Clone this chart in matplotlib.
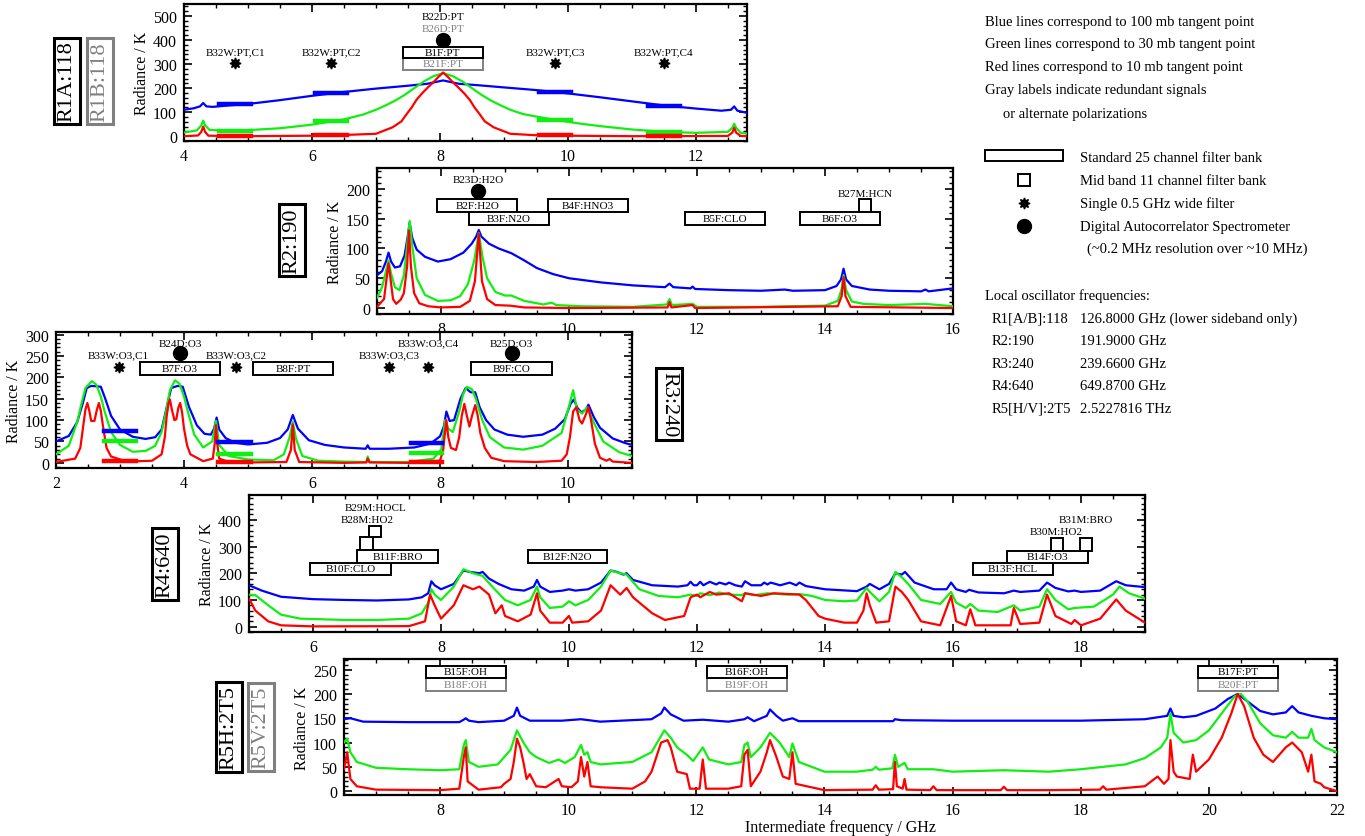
import matplotlib
matplotlib.use('Agg')
import matplotlib.pyplot as plt
from matplotlib.patches import Rectangle
from matplotlib.ticker import MultipleLocator

plt.rcParams['font.family'] = ['Liberation Serif', 'DejaVu Serif']

# ---------------- data (frequency GHz, radiance K) ----------------
r1_blue = [(4.0,110),(4.15,116),(4.25,124),(4.3,138),(4.35,124),(4.45,122),(4.7,128),(5.0,134),
           (5.5,150),(6.0,168),(6.5,184),(7.0,198),(7.5,210),(7.8,218),(8.05,232),(8.3,218),
           (8.6,212),(9.0,203),(9.5,192),(10.0,178),(10.5,162),(11.0,145),(11.5,128),(12.0,115),
           (12.4,106),(12.55,110),(12.6,124),(12.65,106),(12.8,97)]
r1_green = [(4.0,15),(4.2,24),(4.27,45),(4.3,65),(4.33,45),(4.4,26),(4.8,22),(5.5,33),(6.0,48),
            (6.5,70),(6.8,90),(7.0,110),(7.15,128),(7.3,148),(7.45,172),(7.6,200),(7.75,228),
            (7.9,250),(8.05,262),(8.2,250),(8.35,228),(8.5,200),(8.65,172),(8.8,148),
            (8.95,128),(9.1,110),(9.3,92),(9.5,82),(9.8,68),(10.2,52),(10.5,42),(11.0,28),
            (11.5,18),(12.0,14),(12.5,18),(12.57,35),(12.6,52),(12.63,35),(12.7,14),(12.8,11)]
r1_red = [(4.0,0),(4.22,3),(4.27,18),(4.3,40),(4.33,18),(4.38,2),(5.0,0),(6.0,2),(6.5,5),
          (7.0,10),(7.26,37),(7.4,62),(7.48,92),(7.56,120),(7.63,150),(7.72,178),(7.82,205),
          (7.9,225),(7.97,245),(8.05,265),(8.13,245),(8.2,225),(8.28,205),(8.38,178),
          (8.47,150),(8.54,120),(8.62,92),(8.7,62),(8.84,37),(9.1,10),(9.5,4),(10.0,2),
          (11.0,0),(12.5,1),(12.57,15),(12.6,35),(12.63,15),(12.7,1),(12.8,0)]
r1_wide_f = [4.8, 6.3, 9.8, 11.5]
r1_wide_blue = [132, 181, 182, 127]
r1_wide_green = [22, 64, 66, 16]
r1_wide_red = [1, 4, 5, 1]

r2_blue = [(7.0,55),(7.08,62),(7.14,78),(7.18,93),(7.22,78),(7.28,68),(7.36,70),(7.43,88),
           (7.48,120),(7.51,143),(7.55,118),(7.62,98),(7.75,86),(7.95,78),(8.15,82),(8.35,93),
           (8.48,108),(8.55,120),(8.59,131),(8.63,120),(8.75,108),(8.9,100),(9.1,92),(9.3,80),
           (9.5,67),(9.75,57),(10.0,50),(10.5,43),(11.0,38),(11.5,35),(11.57,41),(11.63,35),
           (11.9,33),(11.93,36),(11.97,32),(12.5,30),(13.0,29),(13.37,31),(13.5,29),(14.0,30),
           (14.18,37),(14.25,48),(14.29,66),(14.33,48),(14.42,37),(14.7,31),(15.0,29),(15.5,28),
           (15.57,31),(15.62,28),(16.0,33)]
r2_green = [(7.0,17),(7.08,35),(7.14,62),(7.18,80),(7.22,58),(7.28,35),(7.35,30),(7.42,55),
            (7.47,105),(7.51,146),(7.55,105),(7.62,50),(7.75,22),(7.95,12),(8.15,13),(8.3,20),
            (8.42,40),(8.52,80),(8.59,126),(8.65,85),(8.72,50),(8.85,27),(9.0,21),(9.1,21),
            (9.3,12),(9.6,6),(9.73,9),(9.8,5),(10.2,3),(11.0,2),(11.53,6),(11.57,15),(11.61,5),
            (11.93,7),(12.0,2),(13.0,2),(13.4,3),(14.0,4),(14.2,12),(14.26,32),(14.29,55),
            (14.33,30),(14.42,11),(14.6,7),(15.0,5),(15.57,7),(16.0,3)]
r2_red = [(7.0,2),(7.11,15),(7.15,50),(7.18,75),(7.21,50),(7.25,15),(7.3,7),(7.37,14),
          (7.42,25),(7.47,70),(7.5,130),(7.53,70),(7.58,25),(7.66,8),(7.8,3),(8.0,1),(8.3,2),
          (8.45,12),(8.53,45),(8.59,125),(8.64,45),(8.72,15),(8.85,5),(9.08,4),(9.3,1),
          (10.0,0),(11.54,1),(11.57,10),(11.6,1),(11.93,5),(11.97,0),(14.2,3),(14.26,20),
          (14.29,52),(14.32,20),(14.4,2),(16.0,0)]

r3_blue = [(2.0,50),(2.2,63),(2.33,95),(2.42,140),(2.48,175),(2.55,180),(2.63,179),(2.7,178),
           (2.77,150),(2.86,110),(3.0,78),(3.2,61),(3.4,56),(3.55,60),(3.65,78),(3.73,130),
           (3.8,175),(3.9,180),(3.98,178),(4.08,130),(4.2,88),(4.32,68),(4.42,66),(4.47,80),
           (4.51,106),(4.55,78),(4.65,58),(4.8,47),(5.0,43),(5.3,47),(5.5,58),(5.62,78),
           (5.7,112),(5.78,80),(5.95,53),(6.2,42),(6.5,36),(6.84,33),(6.87,41),(6.9,33),
           (7.2,33),(7.6,36),(7.85,45),(8.0,62),(8.06,85),(8.1,120),(8.15,98),(8.22,100),
           (8.32,150),(8.4,175),(8.48,165),(8.55,165),(8.62,130),(8.72,100),(8.85,78),(9.05,66),
           (9.3,61),(9.6,66),(9.8,80),(9.95,102),(10.04,138),(10.09,148),(10.15,128),(10.21,118),
           (10.28,125),(10.32,136),(10.4,108),(10.5,82),(10.7,57),(10.9,46),(11.0,42)]
r3_green = [(2.0,20),(2.2,40),(2.33,95),(2.4,140),(2.46,175),(2.56,191),(2.63,183),(2.7,155),
            (2.76,120),(2.86,72),(3.0,42),(3.2,26),(3.4,28),(3.55,40),(3.65,72),(3.72,120),
            (3.78,170),(3.86,193),(3.93,185),(4.0,155),(4.06,120),(4.16,66),(4.3,36),(4.44,50),
            (4.5,98),(4.55,42),(4.7,16),(5.0,8),(5.4,6),(5.56,20),(5.65,60),(5.7,96),(5.75,56),
            (5.85,16),(6.1,5),(6.5,3),(6.85,2),(6.87,15),(6.9,2),(7.5,2),(7.9,10),(8.02,32),
            (8.08,100),(8.13,80),(8.2,72),(8.3,120),(8.36,160),(8.42,178),(8.5,172),(8.56,150),
            (8.66,100),(8.78,60),(9.0,36),(9.3,31),(9.6,40),(9.9,70),(10.03,140),(10.08,170),
            (10.14,125),(10.22,115),(10.3,130),(10.4,95),(10.55,50),(10.8,25),(11.0,16)]
r3_red = [(2.0,2),(2.3,10),(2.38,35),(2.42,80),(2.46,125),(2.49,140),(2.52,122),(2.55,98),
          (2.6,98),(2.64,125),(2.67,140),(2.7,122),(2.74,80),(2.79,35),(2.86,15),(3.1,3),
          (3.5,5),(3.65,20),(3.7,60),(3.73,110),(3.76,140),(3.78,148),(3.81,125),(3.85,100),
          (3.88,102),(3.91,128),(3.94,140),(3.97,118),(4.0,80),(4.05,40),(4.1,20),(4.3,4),
          (4.45,10),(4.48,45),(4.5,88),(4.52,45),(4.55,10),(4.7,2),(5.0,1),(5.6,2),(5.67,30),
          (5.7,90),(5.73,30),(5.8,2),(6.5,0),(6.85,1),(6.87,10),(6.9,1),(7.5,0),(8.0,5),
          (8.05,30),(8.07,60),(8.1,100),(8.13,60),(8.17,35),(8.25,30),(8.3,60),(8.34,110),
          (8.38,138),(8.42,110),(8.46,85),(8.5,110),(8.55,135),(8.59,110),(8.63,70),(8.7,35),
          (8.8,12),(9.0,4),(9.5,2),(9.9,5),(9.98,20),(10.03,60),(10.08,120),(10.13,130),
          (10.18,100),(10.22,92),(10.27,110),(10.32,130),(10.36,100),(10.42,45),(10.5,12),
          (10.6,5),(10.65,9),(10.7,3),(11.0,0)]
r3_bar_lo = [2.75, 4.53, 7.55]
r3_bar_hi = [3.25, 5.05, 8.03]
r3_bar_blue = [75, 48, 47]
r3_bar_green = [50, 20, 22]
r3_bar_red = [4, 1, 2]

r4_blue = [(5.0,155),(5.2,135),(5.5,112),(6.0,103),(6.5,100),(7.0,98),(7.5,102),(7.7,110),
           (7.8,125),(7.85,170),(7.9,155),(8.0,140),(8.2,160),(8.35,210),(8.45,205),(8.6,200),
           (8.65,205),(8.75,180),(8.9,160),(9.1,140),(9.3,135),(9.45,150),(9.5,175),(9.55,150),
           (9.7,130),(9.9,135),(10.0,140),(10.1,135),(10.3,140),(10.5,165),(10.65,210),
           (10.75,205),(10.85,195),(10.9,200),(11.0,175),(11.3,155),(11.7,150),(11.85,155),
           (11.9,168),(11.95,155),(12.0,155),(12.05,168),(12.1,155),(12.2,168),(12.3,158),
           (12.35,165),(12.45,158),(12.5,165),(12.6,155),(12.7,150),(12.75,170),(12.85,155),
           (13.0,155),(13.05,165),(13.1,158),(13.15,165),(13.3,155),(13.45,165),(13.55,155),
           (13.6,165),(13.7,152),(14.0,140),(14.5,133),(14.65,150),(14.7,160),(14.85,140),
           (15.0,160),(15.1,200),(15.2,195),(15.25,205),(15.4,165),(15.7,140),(15.9,140),
           (15.97,165),(16.05,140),(16.2,130),(16.25,138),(16.4,128),(16.8,125),(16.95,135),
           (17.05,130),(17.35,135),(17.47,165),(17.6,145),(17.8,132),(17.9,135),(18.0,130),
           (18.3,135),(18.55,170),(18.7,155),(19.0,148)]
r4_green = [(5.0,120),(5.1,118),(5.3,80),(5.5,45),(5.8,30),(6.5,25),(7.0,25),(7.5,30),(7.7,50),
            (7.8,90),(7.85,140),(7.9,120),(8.0,100),(8.2,150),(8.35,215),(8.5,200),(8.65,190),
            (8.8,150),(9.0,100),(9.2,80),(9.4,100),(9.5,150),(9.55,110),(9.7,70),(9.9,75),
            (10.0,95),(10.1,80),(10.3,100),(10.5,150),(10.65,210),(10.8,200),(10.9,195),
            (11.1,140),(11.4,115),(11.7,110),(11.9,120),(12.0,115),(12.05,125),(12.2,118),
            (12.35,128),(12.5,120),(12.7,118),(12.75,125),(12.9,118),(13.1,125),(13.4,120),
            (13.6,122),(13.8,115),(14.0,100),(14.3,95),(14.5,98),(14.65,145),(14.7,130),
            (14.85,95),(15.0,130),(15.1,205),(15.2,185),(15.3,160),(15.5,100),(15.8,85),
            (15.97,130),(16.05,90),(16.2,70),(16.27,85),(16.4,60),(16.7,55),(16.95,80),
            (17.05,60),(17.35,75),(17.47,140),(17.6,100),(17.8,65),(17.9,70),(18.2,75),
            (18.5,120),(18.6,150),(18.75,125),(19.0,105)]
r4_red = [(5.0,105),(5.1,60),(5.3,20),(5.5,5),(6.0,1),(7.5,2),(7.75,20),(7.83,120),(7.9,80),
          (8.0,30),(8.2,80),(8.35,155),(8.5,140),(8.6,150),(8.75,120),(8.85,50),(8.95,80),
          (9.0,40),(9.2,20),(9.4,45),(9.5,125),(9.55,60),(9.7,15),(9.9,15),(10.0,40),
          (10.05,15),(10.3,20),(10.5,60),(10.65,155),(10.8,120),(10.9,145),(11.0,110),
          (11.3,50),(11.5,25),(11.8,40),(11.9,110),(12.0,120),(12.05,110),(12.2,130),
          (12.3,120),(12.5,125),(12.7,95),(12.75,125),(13.0,115),(13.2,125),(13.6,120),
          (13.7,100),(13.9,40),(14.0,30),(14.3,15),(14.5,15),(14.6,60),(14.65,125),(14.7,80),
          (14.8,15),(15.0,20),(15.1,150),(15.2,130),(15.3,100),(15.5,20),(15.8,5),(15.97,115),
          (16.05,20),(16.2,5),(16.27,65),(16.35,5),(16.9,5),(16.95,70),(17.05,10),(17.35,15),
          (17.47,120),(17.6,40),(17.85,10),(17.9,25),(18.0,5),(18.3,30),(18.55,102),
          (18.7,60),(19.0,15)]

r5_blue = [(6.5,148),(6.6,150),(6.8,143),(7.5,142),(8.3,142),(8.38,148),(8.4,150),(8.45,145),
           (8.6,142),(9.0,145),(9.15,155),(9.2,172),(9.25,155),(9.4,145),(9.9,145),(10.2,148),
           (10.5,143),(11.3,148),(11.45,160),(11.5,172),(11.6,158),(11.8,145),(12.1,147),
           (12.5,143),(12.75,148),(12.8,152),(12.9,144),(13.1,155),(13.15,168),(13.25,155),
           (13.35,145),(13.5,150),(13.6,144),(14.0,144),(15.07,144),(15.1,148),(15.2,146),
           (16.0,145),(18.0,145),(19.0,148),(19.35,155),(19.4,170),(19.45,155),(19.6,152),
           (19.8,155),(20.1,170),(20.3,190),(20.45,200),(20.6,185),(20.8,165),(21.0,158),
           (21.2,162),(21.3,175),(21.4,162),(21.6,155),(21.8,150),(22.0,148)]
r5_green = [(6.5,100),(6.55,108),(6.6,80),(6.7,60),(7.0,48),(7.5,45),(8.0,43),(8.3,45),
            (8.37,95),(8.4,105),(8.45,60),(8.6,50),(8.9,55),(9.0,70),(9.1,85),(9.2,125),
            (9.3,100),(9.4,80),(9.5,70),(9.7,58),(9.85,65),(9.95,58),(10.1,70),(10.2,95),
            (10.25,75),(10.3,80),(10.35,60),(10.5,55),(11.0,60),(11.3,80),(11.5,125),
            (11.6,110),(11.7,90),(11.85,75),(11.95,62),(12.1,90),(12.2,65),(12.5,55),
            (12.7,60),(12.75,95),(12.8,100),(12.85,70),(13.0,90),(13.15,120),(13.3,100),
            (13.45,70),(13.5,98),(13.6,60),(14.0,40),(14.5,40),(14.75,44),(14.8,50),(14.85,44),
            (15.06,47),(15.1,75),(15.15,50),(15.25,58),(15.3,45),(15.7,45),(16.0,40),(16.8,43),
            (17.5,40),(18.0,45),(18.35,50),(18.7,55),(19.0,68),(19.25,90),(19.35,110),(19.4,160),
            (19.45,120),(19.6,100),(19.8,105),(20.0,125),(20.2,160),(20.4,195),(20.5,200),
            (20.6,185),(20.8,140),(21.0,115),(21.2,110),(21.3,122),(21.4,110),(21.55,110),
            (21.6,128),(21.65,105),(21.8,90),(22.0,80)]
r5_red = [(6.5,45),(6.55,80),(6.6,25),(6.7,10),(7.0,3),(8.0,2),(8.3,5),(8.37,70),(8.4,90),
          (8.43,20),(8.6,3),(8.95,8),(9.0,15),(9.1,25),(9.15,60),(9.2,108),(9.25,90),(9.3,60),
          (9.35,25),(9.4,35),(9.5,10),(9.65,8),(9.85,25),(9.9,10),(10.05,8),(10.15,20),
          (10.2,70),(10.25,30),(10.3,60),(10.35,10),(10.5,8),(11.0,5),(11.2,20),(11.3,40),
          (11.4,80),(11.45,100),(11.55,105),(11.6,90),(11.65,65),(11.7,40),(11.85,35),
          (11.9,5),(12.05,5),(12.1,65),(12.15,5),(12.5,5),(12.7,10),(12.75,75),(12.8,85),
          (12.85,10),(13.0,40),(13.1,80),(13.15,105),(13.25,70),(13.35,30),(13.45,25),
          (13.5,80),(13.55,15),(14.0,2),(14.75,3),(14.8,12),(14.85,3),(15.07,4),(15.1,60),
          (15.13,10),(15.22,5),(15.25,25),(15.28,3),(15.65,2),(15.7,10),(15.75,2),(16.0,2),
          (16.75,2),(16.8,9),(16.85,2),(17.5,2),(18.3,3),(18.35,10),(18.4,3),(19.0,10),
          (19.2,30),(19.3,15),(19.37,25),(19.4,105),(19.45,40),(19.5,30),(19.7,25),(19.75,75),
          (19.8,40),(20.0,65),(20.2,110),(20.35,160),(20.45,200),(20.55,175),(20.7,110),
          (20.85,75),(21.0,60),(21.2,90),(21.3,100),(21.45,80),(21.55,40),(21.6,75),
          (21.65,20),(21.75,15),(21.8,8),(22.0,0)]

legend_lines = ['Blue lines correspond to 100 mb tangent point',
                'Green lines correspond to 30 mb tangent point',
                'Red lines correspond to 10 mb tangent point',
                'Gray labels indicate redundant signals']
lo_names = ['R1[A/B]:118', 'R2:190', 'R3:240', 'R4:640', 'R5[H/V]:2T5']
lo_freqs = ['126.8000 GHz (lower sideband only)', '191.9000 GHz', '239.6600 GHz',
            '649.8700 GHz', '2.5227816 THz']

# ---------------- drawing ----------------
BLUE, GREEN, RED, GRAY = '#0000ff', '#11ee11', '#ff0000', '#808080'
W, H = 1365.0, 837.0
fig = plt.figure(figsize=(13.65, 8.37), dpi=100)


def panel(l, t, r, b, xlim, ylim, ymaj, ymin):
    ax = fig.add_axes([l / W, 1 - b / H, (r - l) / W, (b - t) / H])
    ax.set_xlim(*xlim)
    ax.set_ylim(*ylim)
    ax.xaxis.set_major_locator(MultipleLocator(2))
    ax.xaxis.set_minor_locator(MultipleLocator(0.5))
    ax.yaxis.set_major_locator(MultipleLocator(ymaj))
    ax.yaxis.set_minor_locator(MultipleLocator(ymin))
    ax.tick_params(which='both', direction='in', top=True, right=True, labelsize=11.5)
    ax.tick_params(which='major', length=6, width=1.2, pad=5)
    ax.tick_params(which='minor', length=3, width=1)
    for s in ax.spines.values():
        s.set_linewidth(1.6)
    ax.set_ylabel('Radiance / K', fontsize=11.5, labelpad=2)
    return ax


def curves(ax, blue, green, red):
    for data, c in ((blue, BLUE), (green, GREEN), (red, RED)):
        f, k = zip(*data)
        ax.plot(f, k, color=c, lw=1.6, zorder=3)


def band(ax, f0, f1, k0, k1, label, color='k'):
    ax.add_patch(Rectangle((f0, k0), f1 - f0, k1 - k0, fc='white', ec=color, lw=1.4, zorder=5))
    if label:
        ax.text((f0 + f1) / 2, (k0 + k1) / 2, label, ha='center', va='center',
                fontsize=8, color=color, zorder=6)


def star(ax, f, k, label, ky):
    ax.plot([f], [k], marker=(8, 1, 0), ms=8, color='k', zorder=6)
    ax.text(f, ky, label, ha='center', va='center', fontsize=8, zorder=6)


def das(ax, f, k, labels, kys, colors):
    ax.plot([f], [k], 'o', ms=10, color='k', zorder=6)
    for lab, ky, c in zip(labels, kys, colors):
        ax.text(f, ky, lab, ha='center', va='center', fontsize=8, color=c, zorder=6)


# panel 1: R1A/R1B 118
ax1 = panel(184, 5, 747, 142, (4, 12.8), (-20, 550), 100, 20)
curves(ax1, r1_blue, r1_green, r1_red)
for f, kb, kg, kr in zip(r1_wide_f, r1_wide_blue, r1_wide_green, r1_wide_red):
    for kk, c in ((kb, BLUE), (kg, GREEN), (kr, RED)):
        ax1.plot([f - 0.25, f + 0.25], [kk, kk], color=c, lw=3.2, zorder=3)
band(ax1, 7.42, 8.67, 276, 325, 'B21F:PT', GRAY)
band(ax1, 7.42, 8.67, 325, 373, 'B1F:PT')
das(ax1, 8.05, 400, ['B22D:PT', 'B26D:PT'], [496, 446], ['k', GRAY])
for f, lab in zip(r1_wide_f, ['B32W:PT,C1', 'B32W:PT,C2', 'B32W:PT,C3', 'B32W:PT,C4']):
    star(ax1, f, 303, lab, 352)

# panel 2: R2 190
ax2 = panel(377, 169, 953, 315, (7, 16), (-10, 235), 50, 10)
curves(ax2, r2_blue, r2_green, r2_red)
band(ax2, 7.94, 9.19, 161, 183, 'B2F:H2O')
band(ax2, 8.44, 9.69, 140, 161, 'B3F:N2O')
band(ax2, 9.67, 10.92, 161, 183, 'B4F:HNO3')
band(ax2, 11.81, 13.06, 140, 161, 'B5F:CLO')
band(ax2, 13.61, 14.86, 140, 161, 'B6F:O3')
band(ax2, 14.53, 14.72, 161, 183, '')
ax2.text(14.63, 193, 'B27M:HCN', ha='center', va='center', fontsize=8)
das(ax2, 8.58, 197, ['B23D:H2O'], [216], ['k'])

# panel 3: R3 240
ax3 = panel(56, 333, 632, 469, (2, 11), (-12, 306), 50, 10)
curves(ax3, r3_blue, r3_green, r3_red)
for lo, hi, kb, kg, kr in zip(r3_bar_lo, r3_bar_hi, r3_bar_blue, r3_bar_green, r3_bar_red):
    for kk, c in ((kb, BLUE), (kg, GREEN), (kr, RED)):
        ax3.plot([lo, hi], [kk, kk], color=c, lw=3.2, zorder=3)
band(ax3, 3.31, 4.56, 206, 236, 'B7F:O3')
band(ax3, 5.08, 6.33, 206, 236, 'B8F:PT')
band(ax3, 8.48, 9.75, 206, 236, 'B9F:CO')
das(ax3, 3.94, 257, ['B24D:O3'], [280], ['k'])
das(ax3, 9.12, 257, ['B25D:O3'], [280], ['k'])
star(ax3, 2.98, 224, 'B33W:O3,C1', 252)
star(ax3, 4.81, 224, 'B33W:O3,C2', 252)
star(ax3, 7.2, 224, 'B33W:O3,C3', 252)
star(ax3, 7.81, 224, 'B33W:O3,C4', 280)

# panel 4: R4 640
ax4 = panel(249, 496, 1145, 633, (5, 19), (-20, 493), 100, 20)
curves(ax4, r4_blue, r4_green, r4_red)
band(ax4, 5.95, 7.22, 194, 240, 'B10F:CLO')
band(ax4, 6.69, 7.95, 240, 287, 'B11F:BRO')
band(ax4, 6.73, 6.94, 287, 335, '')
band(ax4, 6.88, 7.06, 335, 378, '')
ax4.text(6.85, 401, 'B28M:HO2', ha='center', va='center', fontsize=8)
ax4.text(6.97, 445, 'B29M:HOCL', ha='center', va='center', fontsize=8)
band(ax4, 9.36, 10.59, 240, 287, 'B12F:N2O')
band(ax4, 16.31, 17.56, 193, 239, 'B13F:HCL')
band(ax4, 16.84, 18.11, 239, 285, 'B14F:O3')
band(ax4, 17.53, 17.72, 285, 332, '')
band(ax4, 17.98, 18.17, 285, 332, '')
ax4.text(17.62, 358, 'B30M:HO2', ha='center', va='center', fontsize=8)
ax4.text(18.08, 402, 'B31M:BRO', ha='center', va='center', fontsize=8)

# panel 5: R5H/R5V 2T5
ax5 = panel(344, 660, 1337, 796, (6.5, 22), (-8, 272), 50, 10)
curves(ax5, r5_blue, r5_green, r5_red)
for f0, top, bot in ((7.78, 'B15F:OH', 'B18F:OH'), (12.16, 'B16F:OH', 'B19F:OH'),
                     (19.83, 'B17F:PT', 'B20F:PT')):
    band(ax5, f0, f0 + 1.25, 207, 233, bot, GRAY)
    band(ax5, f0, f0 + 1.25, 233, 258, top)
ax5.set_xlabel('Intermediate frequency / GHz', fontsize=11.5, labelpad=1)

# overlay in pixel coordinates for labels and legend
ov = fig.add_axes([0, 0, 1, 1], zorder=-1)
ov.set_xlim(0, W)
ov.set_ylim(H, 0)
ov.axis('off')


def tag(x, y, s, color='k', rot=90):
    ov.text(x, y, s, rotation=rot, ha='center', va='center', fontsize=16, color=color,
            bbox=dict(boxstyle='square,pad=0.14', fc='white', ec=color, lw=2.2))


tag(67, 82, 'R1A:118')
tag(100, 82, 'R1B:118', GRAY)
tag(292, 241, 'R2:190')
tag(669, 405, 'R3:240', rot=270)
tag(165, 565, 'R4:640')
tag(229, 728, 'R5H:2T5')
tag(261, 728, 'R5V:2T5', GRAY)

for i, s in enumerate(legend_lines):
    ov.text(985, 22 + i * 22.8, s, fontsize=10.5, va='center')
ov.text(1003, 114, 'or alternate polarizations', fontsize=10.5, va='center')

ov.add_patch(Rectangle((985, 151), 78, 11, fc='white', ec='k', lw=1.4))
ov.add_patch(Rectangle((1018, 175), 12, 12, fc='white', ec='k', lw=1.4))
ov.plot([1024], [204], marker=(8, 1, 0), ms=8, color='k')
ov.plot([1024], [227], 'o', ms=10, color='k')
for y, s in zip([158, 181, 204, 227],
                ['Standard 25 channel filter bank', 'Mid band 11 channel filter bank',
                 'Single 0.5 GHz wide filter', 'Digital Autocorrelator Spectrometer']):
    ov.text(1080, y, s, fontsize=10.5, va='center')
ov.text(1087, 249, '(~0.2 MHz resolution over ~10 MHz)', fontsize=10.5, va='center')

ov.text(985, 296, 'Local oscillator frequencies:', fontsize=10.5, va='center')
for i, (n, f) in enumerate(zip(lo_names, lo_freqs)):
    ov.text(992, 319 + i * 22.6, n, fontsize=10.5, va='center')
    ov.text(1080, 319 + i * 22.6, f, fontsize=10.5, va='center')

fig.savefig('out.png', dpi=100)
